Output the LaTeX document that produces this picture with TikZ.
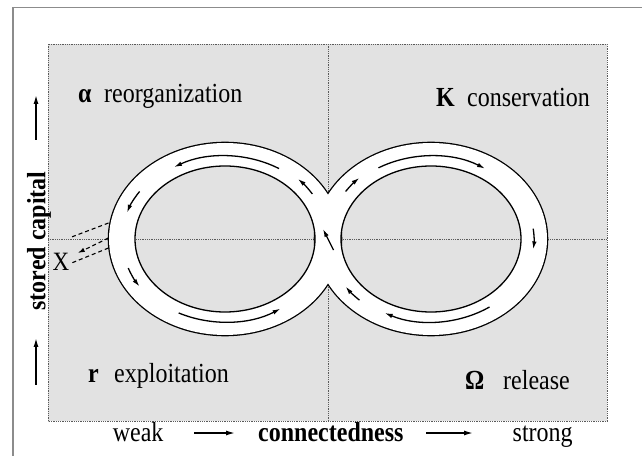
\documentclass[tikz,border=0pt]{standalone}
\usepackage{fontspec}
\usepackage{graphicx}
\setmainfont{Liberation Serif}
\usetikzlibrary{arrows.meta}
\definecolor{panel}{RGB}{226,226,226}
\definecolor{framegray}{RGB}{140,140,140}
\definecolor{dotgray}{RGB}{90,90,90}
\newcommand{\talltext}[1]{\scalebox{1}[1.15]{#1}}
\begin{document}
\begin{tikzpicture}[x=1pt,y=1pt,
  lbl/.style={anchor=base west, inner sep=0pt, font=\fontsize{24}{28}\selectfont},
  lblb/.style={anchor=base west, inner sep=0pt, font=\fontsize{24}{28}\selectfont\bfseries},
  ringarrow/.style={line width=1.3pt, -{Latex[length=8pt,width=4.5pt]}},
  axisarrow/.style={line width=1.4pt, -{Latex[length=9pt,width=5pt]}},
  dividers/.style={dotgray, line width=0.9pt, dash pattern=on 0.9pt off 0.9pt},
  xdash/.style={line width=1.1pt, dash pattern=on 4pt off 3pt},
  outerline/.style={line width=2.6pt},
  innerline/.style={line width=1.3pt}]
\useasboundingbox (0,0) rectangle (642,455);
% frame
\coordinate (f1) at (12.7,-5);
\coordinate (f2) at (12.7,447.5);
\coordinate (f3) at (650,447.5);
\draw[framegray, line width=1.8pt] (f1) -- (f2) -- (f3);
% panel
\fill[panel] (48,34) rectangle (607,411);
\draw[dividers] (48,34) rectangle (607,411);
\coordinate (vd1) at (328,34); \coordinate (vd2) at (328,411);
\coordinate (hd1) at (48,216); \coordinate (hd2) at (607,216);
\draw[dividers] (vd1) -- (vd2);
\draw[dividers] (hd1) -- (hd2);
% rings
\coordinate (L) at (225,216);
\coordinate (R) at (431,216);
\draw[outerline] (L) ellipse [x radius=116pt, y radius=96pt];
\draw[outerline] (R) ellipse [x radius=116pt, y radius=96pt];
\fill[white, even odd rule] (L) ellipse [x radius=116pt, y radius=96pt]
  (L) ellipse [x radius=90pt, y radius=73pt];
\fill[white, even odd rule] (R) ellipse [x radius=116pt, y radius=96pt]
  (R) ellipse [x radius=90pt, y radius=73pt];
\draw[innerline] (L) ellipse [x radius=90pt, y radius=73pt];
\draw[innerline] (R) ellipse [x radius=90pt, y radius=73pt];
% left ring arrows (counterclockwise)
\draw[ringarrow] ([shift={(L)}]58:102pt and 83pt) arc [start angle=58, end angle=120, x radius=102pt, y radius=83pt];
\draw[ringarrow] ([shift={(L)}]146:103pt and 85pt) arc [start angle=146, end angle=162, x radius=103pt, y radius=85pt];
\draw[ringarrow] ([shift={(L)}]200:103pt and 85pt) arc [start angle=200, end angle=214, x radius=103pt, y radius=85pt];
\draw[ringarrow] ([shift={(L)}]243:102pt and 83pt) arc [start angle=243, end angle=303, x radius=102pt, y radius=83pt];
\draw[ringarrow] ([shift={(L)}]32:103pt and 85pt) arc [start angle=32, end angle=45, x radius=103pt, y radius=85pt];
% right ring arrows (clockwise)
\draw[ringarrow] ([shift={(R)}]121:102pt and 83pt) arc [start angle=121, end angle=58, x radius=102pt, y radius=83pt];
\draw[ringarrow] ([shift={(R)}]7:103pt and 85pt) arc [start angle=7, end angle=-7, x radius=103pt, y radius=85pt];
\draw[ringarrow] ([shift={(R)}]-55:102pt and 83pt) arc [start angle=-55, end angle=-117, x radius=102pt, y radius=83pt];
\draw[ringarrow] ([shift={(R)}]-134:103pt and 85pt) arc [start angle=-134, end angle=-146, x radius=103pt, y radius=85pt];
\draw[ringarrow] ([shift={(R)}]146:103pt and 85pt) arc [start angle=146, end angle=134, x radius=103pt, y radius=85pt];
% centre arrow
\coordinate (c1) at (333.5,205);
\coordinate (c2) at (323,226);
\draw[ringarrow] (c1) -- (c2);
% X and dashed lines
\node[font=\fontsize{23}{26}\selectfont, inner sep=0pt] (X) at (61,193) {\talltext{X}};
\coordinate (xu1) at (108.5,232); \coordinate (xu2) at (71.6,218);
\coordinate (xm1) at (108.5,217); \coordinate (xm2) at (77.8,202);
\coordinate (xl1) at (108.5,207); \coordinate (xl2) at (71.6,192);
\draw[xdash] (xu1) -- (xu2);
\draw[xdash, -{Latex[length=7pt,width=4.5pt]}] (xm1) -- (xm2);
\draw[xdash] (xl1) -- (xl2);
% phase labels
\node[lblb] (alpha) at (78,352.5) {\talltext{α}};
\node[lbl] (reorg) at (104,352.5) {\talltext{reorganization}};
\node[lblb] (K) at (436,348.5) {\talltext{K}};
\node[lbl] (cons) at (467,348.5) {\talltext{conservation}};
\node[lblb] (r) at (88,72) {\talltext{r}};
\node[lbl] (expl) at (114,72) {\talltext{exploitation}};
\node[lblb] (Omega) at (465,65) {\talltext{Ω}};
\node[lbl] (rel) at (503,65) {\talltext{release}};
% axes
\node[lbl] (weak) at (112.6,13.5) {\talltext{weak}};
\node[lblb] (conn) at (258,13.5) {\talltext{connectedness}};
\node[lbl] (strong) at (512.5,13.5) {\talltext{strong}};
\coordinate (ha1) at (194,22); \coordinate (ha2) at (235,22);
\coordinate (hb1) at (426,22); \coordinate (hb2) at (473,22);
\draw[axisarrow] (ha1) -- (ha2);
\draw[axisarrow] (hb1) -- (hb2);
\node[font=\fontsize{24}{28}\selectfont\bfseries, rotate=90, inner sep=0pt] (sc) at (39,214) {\scalebox{1}[1.1]{stored capital}};
\coordinate (va1) at (36,315); \coordinate (va2) at (36,360);
\coordinate (vb1) at (36,70); \coordinate (vb2) at (36,117);
\draw[axisarrow] (va1) -- (va2);
\draw[axisarrow] (vb1) -- (vb2);
\end{tikzpicture}
\end{document}
